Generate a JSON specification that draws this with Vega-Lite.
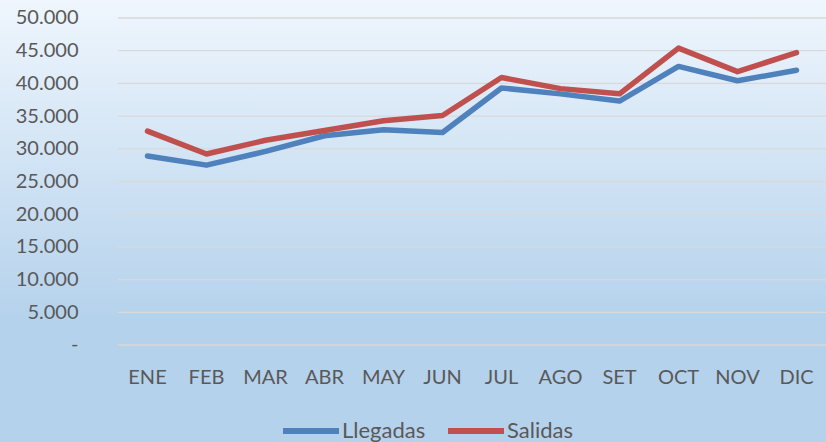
{
  "$schema": "https://vega.github.io/schema/vega-lite/v6.json",
  "width": 826,
  "height": 442,
  "autosize": {"type": "none"},
  "padding": 0,
  "background": "#b5d2ec",
  "config": {
    "view": {
      "stroke": null,
      "fill": {
        "gradient": "linear",
        "x1": 0, "y1": 0, "x2": 0, "y2": 1,
        "stops": [
          {"offset": 0, "color": "#eff6fd"},
          {"offset": 0.72, "color": "#b5d2ec"},
          {"offset": 1, "color": "#b5d2ec"}
        ]
      }
    },
    "font": "Lato",
    "axis": {"labelFont": "Lato", "labelFontSize": 20, "labelColor": "#595959"},
    "legend": {"labelFont": "Lato", "labelFontSize": 22, "labelColor": "#595959"}
  },
  "datasets": {
    "grid": [
      {"v": 0}, {"v": 5000}, {"v": 10000}, {"v": 15000}, {"v": 20000}, {"v": 25000},
      {"v": 30000}, {"v": 35000}, {"v": 40000}, {"v": 45000}, {"v": 50000}
    ],
    "series": [
      {"mes": "ENE", "serie": "Llegadas", "valor": 28900},
      {"mes": "FEB", "serie": "Llegadas", "valor": 27500},
      {"mes": "MAR", "serie": "Llegadas", "valor": 29600},
      {"mes": "ABR", "serie": "Llegadas", "valor": 32000},
      {"mes": "MAY", "serie": "Llegadas", "valor": 32900},
      {"mes": "JUN", "serie": "Llegadas", "valor": 32500},
      {"mes": "JUL", "serie": "Llegadas", "valor": 39300},
      {"mes": "AGO", "serie": "Llegadas", "valor": 38400},
      {"mes": "SET", "serie": "Llegadas", "valor": 37300},
      {"mes": "OCT", "serie": "Llegadas", "valor": 42600},
      {"mes": "NOV", "serie": "Llegadas", "valor": 40400},
      {"mes": "DIC", "serie": "Llegadas", "valor": 42000},
      {"mes": "ENE", "serie": "Salidas", "valor": 32700},
      {"mes": "FEB", "serie": "Salidas", "valor": 29200},
      {"mes": "MAR", "serie": "Salidas", "valor": 31300},
      {"mes": "ABR", "serie": "Salidas", "valor": 32800},
      {"mes": "MAY", "serie": "Salidas", "valor": 34300},
      {"mes": "JUN", "serie": "Salidas", "valor": 35100},
      {"mes": "JUL", "serie": "Salidas", "valor": 40900},
      {"mes": "AGO", "serie": "Salidas", "valor": 39200},
      {"mes": "SET", "serie": "Salidas", "valor": 38400},
      {"mes": "OCT", "serie": "Salidas", "valor": 45400},
      {"mes": "NOV", "serie": "Salidas", "valor": 41800},
      {"mes": "DIC", "serie": "Salidas", "valor": 44700}
    ]
  },
  "layer": [
    {
      "data": {"name": "grid"},
      "mark": {"type": "rule", "color": "#d9d9d9", "strokeWidth": 1.3},
      "encoding": {
        "y": {
          "field": "v",
          "type": "quantitative",
          "scale": {"domain": [-14832, 52752], "nice": false, "zero": false},
          "axis": {
            "title": null,
            "orient": "left",
            "offset": -118,
            "domain": false,
            "ticks": false,
            "grid": false,
            "values": [0, 5000, 10000, 15000, 20000, 25000, 30000, 35000, 40000, 45000, 50000],
            "labelPadding": 40,
            "labelExpr": "datum.value == 0 ? '-' : replace(format(datum.value, ','), ',', '.')"
          }
        },
        "x": {"datum": "ENE", "type": "nominal", "bandPosition": 0},
        "x2": {"datum": "DIC", "bandPosition": 1}
      }
    },
    {
      "data": {"name": "series"},
      "mark": {"type": "line", "strokeWidth": 5.5, "strokeCap": "round", "strokeJoin": "round"},
      "encoding": {
        "x": {
          "field": "mes",
          "type": "nominal",
          "scale": {
            "type": "band",
            "domain": ["ENE", "FEB", "MAR", "ABR", "MAY", "JUN", "JUL", "AGO", "SET", "OCT", "NOV", "DIC"],
            "paddingInner": 0,
            "paddingOuter": 1,
            "align": 1
          },
          "axis": {
            "title": null,
            "orient": "bottom",
            "offset": -97,
            "domain": false,
            "ticks": false,
            "grid": false,
            "bandPosition": 0.5,
            "labelAlign": "center",
            "labelAngle": 0,
            "labelPadding": 32
          }
        },
        "y": {
          "field": "valor",
          "type": "quantitative",
          "scale": {"domain": [-14832, 52752], "nice": false, "zero": false},
          "axis": {
            "title": null,
            "orient": "left",
            "offset": -118,
            "domain": false,
            "ticks": false,
            "grid": false,
            "values": [0, 5000, 10000, 15000, 20000, 25000, 30000, 35000, 40000, 45000, 50000],
            "labelPadding": 40,
            "labelExpr": "datum.value == 0 ? '-' : replace(format(datum.value, ','), ',', '.')"
          }
        },
        "color": {
          "field": "serie",
          "type": "nominal",
          "scale": {"domain": ["Llegadas", "Salidas"], "range": ["#4f81bd", "#c0504d"]},
          "legend": {
            "title": null,
            "orient": "none",
            "direction": "horizontal",
            "legendX": 280,
            "legendY": 400,
            "padding": 0,
            "symbolType": "stroke",
            "symbolSize": 3136,
            "symbolStrokeWidth": 6,
            "labelOffset": 0,
            "columnPadding": 10
          }
        }
      }
    }
  ]
}
